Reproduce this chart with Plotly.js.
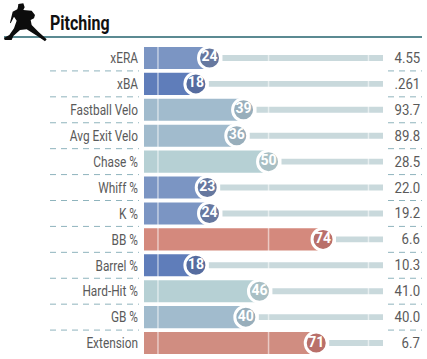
<!DOCTYPE html>
<html><head><meta charset="utf-8">
<script src="https://cdn.plot.ly/plotly-3.0.1.min.js"></script>
<style>html,body{margin:0;padding:0;background:#fff}#c{width:427px;height:359px}</style>
</head><body><div id="c"></div>
<script>
const categories=["xERA","xBA","Fastball Velo","Avg Exit Velo","Chase %","Whiff %","K %","BB %","Barrel %","Hard-Hit %","GB %","Extension"];
const percentiles=[24,18,39,36,50,23,24,74,18,46,40,71];
const statValues=["4.55",".261","93.7","89.8","28.5","22.0","19.2","6.6","10.3","41.0","40.0","6.7"];
const barColors=["#7b95c3","#5f7dba","#a1bbcd","#a1bbcd","#b6d0d4","#7b95c3","#7b95c3","#d4897d","#5f7dba","#b6d0d4","#a1bbcd","#d08d81"];
const circleColors=["#66789f","#566c9f","#98aebb","#98aebb","#a9bfc4","#66789f","#66789f","#b9706a","#566c9f","#a9bfc4","#98aebb","#b9706a"];
const guidePositions=[1.3,50,94];
const W=427,H=359,L=144,R=44,T=45,B=3;
const xMin=-4.85,xMax=100.4,gapAfterCircle=5.7;
const font="Roboto,sans-serif";
const rows=categories.map((c,i)=>i);
const figure=[[55,12],[70,10],[74,22],[70,30],[95,32],[105,45],[102,55],[92,60],[95,75],[115,95],[140,118],[135,124],[112,108],[80,88],[60,90],[40,108],[35,120],[14,120],[12,114],[28,105],[42,85],[50,62],[42,50],[32,70],[30,68],[38,35],[52,28],[54,20]];
const traces=[
 {type:"bar",orientation:"h",y:rows,base:percentiles.map(p=>p+gapAfterCircle),x:percentiles.map(p=>xMax-p-gapAfterCircle),width:0.23,marker:{color:"#c9d9dc"},hoverinfo:"skip"},
 {type:"bar",orientation:"h",y:rows,base:rows.map(()=>xMin),x:percentiles.map(p=>p-xMin),width:0.85,marker:{color:barColors},hoverinfo:"skip"}
];
guidePositions.forEach(g=>traces.push({type:"scatter",mode:"lines",x:[g,g],y:[-0.5,11.5],line:{color:"rgba(255,255,255,0.55)",width:1.5},hoverinfo:"skip"}));
traces.push({type:"scatter",mode:"markers+text",x:percentiles,y:rows,text:percentiles.map(String),textposition:"middle center",textfont:{family:font,size:14,color:"#fff",weight:700},marker:{size:22,color:circleColors,line:{color:"#fff",width:3}},cliponaxis:false,hoverinfo:"skip"});
const shapes=[
 {type:"line",xref:"paper",yref:"paper",x0:(4-L)/(W-L-R),x1:(422-L)/(W-L-R),y0:1+(T-37)/(H-T-B),y1:1+(T-37)/(H-T-B),line:{color:"#5b8a92",width:2}},
 {type:"path",xref:"paper",yref:"paper",path:"M"+figure.map(p=>(((p[0]/3)-L)/(W-L-R)).toFixed(4)+","+(1+(T-p[1]/3)/(H-T-B)).toFixed(4)).join("L")+"Z",fillcolor:"#0c0c0c",line:{width:0}}
];
for(let i=0;i<categories.length-1;i++){
 [[50,139],[388,422]].forEach(s=>shapes.push({type:"line",xref:"paper",yref:"y",x0:(s[0]-L)/(W-L-R),x1:(s[1]-L)/(W-L-R),y0:i+0.5,y1:i+0.5,line:{color:"#8fb4bd",width:1,dash:"6px,5px"}}));
}
const annotations=categories.map((c,i)=>({xref:"paper",yref:"y",x:(422-L)/(W-L-R),y:i,xanchor:"right",yanchor:"middle",text:statValues[i],showarrow:false,font:{family:font,size:15,color:"#5a5a5a"}}));
annotations.push({xref:"paper",yref:"paper",x:(48-L)/(W-L-R),y:1+(T-23)/(H-T-B),xanchor:"left",yanchor:"middle",text:"<b>Pitching</b>",showarrow:false,font:{family:font,size:20,color:"#111"}});
const condense=(t,k,shiftDir)=>{
 const len=t.getComputedTextLength();
 if(len>0){
  t.setAttribute("textLength",(len*k).toFixed(1));
  t.setAttribute("lengthAdjust","spacingAndGlyphs");
  if(shiftDir) t.setAttribute("x",parseFloat(t.getAttribute("x"))+shiftDir*len*(1-k)/2);
 }
};
Plotly.newPlot("c",traces,{
 width:W,height:H,margin:{l:L,r:R,t:T,b:B,pad:0},barmode:"overlay",showlegend:false,
 paper_bgcolor:"#fff",plot_bgcolor:"#fff",
 xaxis:{range:[xMin,xMax],visible:false,fixedrange:true},
 yaxis:{range:[11.5,-0.5],tickmode:"array",tickvals:rows,ticktext:categories,showgrid:false,zeroline:false,showline:false,ticks:"outside",ticklen:2,tickcolor:"rgba(0,0,0,0)",tickfont:{family:font,size:15,color:"#5a5a5a"},fixedrange:true},
 shapes,annotations
},{displayModeBar:false,staticPlot:true}).then(()=>{
 document.querySelectorAll(".ytick text").forEach(t=>condense(t,0.79,0));
 document.querySelectorAll(".annotation-text").forEach(t=>{
  const isTitle=t.textContent==="Pitching";
  condense(t,isTitle?0.8:0.88,isTitle?-1:1);
 });
});
</script></body></html>
